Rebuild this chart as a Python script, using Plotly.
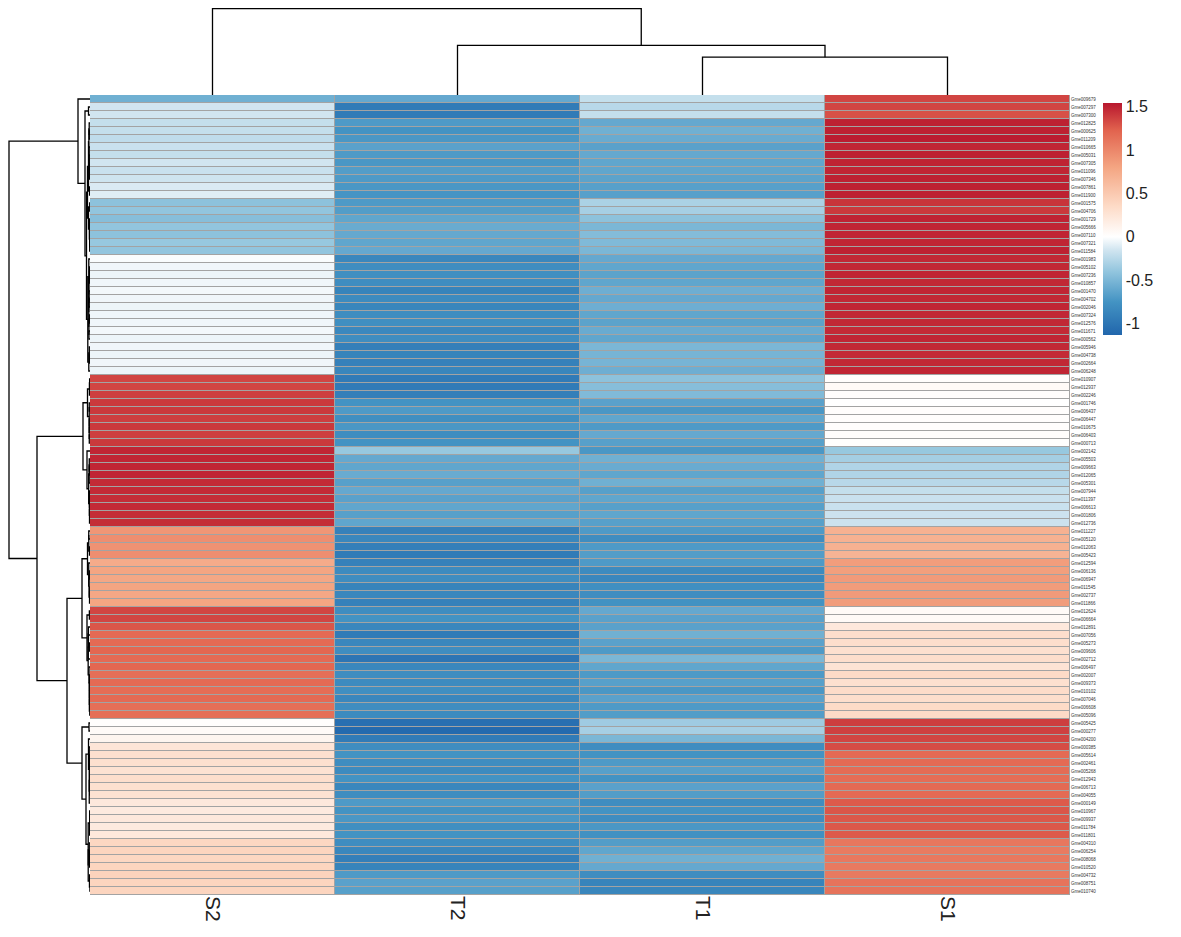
import numpy as np
import plotly.graph_objects as go

# columns in the order they appear after clustering
samples = ["S2", "T2", "T1", "S1"]

genes = [
    "Gme009679", "Gme007297", "Gme007300", "Gme012825", "Gme000625", "Gme011209", "Gme010665",
    "Gme005031", "Gme007305", "Gme011096", "Gme007346", "Gme007861", "Gme011900", "Gme001575",
    "Gme004706", "Gme001729", "Gme005666", "Gme007110", "Gme007321", "Gme011584", "Gme001983",
    "Gme005102", "Gme007236", "Gme010857", "Gme001470", "Gme004702", "Gme002046", "Gme007324",
    "Gme012576", "Gme011671", "Gme000562", "Gme005946", "Gme004738", "Gme002664", "Gme006248",
    "Gme010907", "Gme012937", "Gme002246", "Gme001746", "Gme006437", "Gme006447", "Gme010675",
    "Gme006403", "Gme000713", "Gme002142", "Gme005503", "Gme009663", "Gme012065", "Gme005301",
    "Gme007944", "Gme011397", "Gme006613", "Gme001806", "Gme012736", "Gme011227", "Gme005120",
    "Gme012063", "Gme005423", "Gme012594", "Gme006136", "Gme006947", "Gme011545", "Gme002737",
    "Gme011866", "Gme012624", "Gme006664", "Gme012891", "Gme007056", "Gme005273", "Gme009606",
    "Gme002712", "Gme006497", "Gme002007", "Gme009373", "Gme010102", "Gme007046", "Gme006608",
    "Gme005096", "Gme005425", "Gme000277", "Gme004200", "Gme000385", "Gme005614", "Gme002461",
    "Gme005268", "Gme012943", "Gme006713", "Gme004055", "Gme000149", "Gme010967", "Gme009937",
    "Gme011784", "Gme011801", "Gme004310", "Gme006254", "Gme008068", "Gme010520", "Gme004732",
    "Gme008751", "Gme010740",
]

# row z-scores, one list per sample column
s2 = [
    -0.55, -0.15, -0.15, -0.20, -0.20, -0.22, -0.18, -0.20, -0.15, -0.18,
    -0.16, -0.12, -0.10, -0.42, -0.40, -0.45, -0.40, -0.42, -0.38, -0.40,
    -0.02, -0.05, -0.06, -0.05, -0.04, -0.05, -0.06, -0.05, -0.05, -0.04,
    -0.06, -0.05, -0.06, -0.05, -0.06,
    1.35, 1.35, 1.38, 1.40, 1.40, 1.38, 1.40, 1.38, 1.40, 1.48,
    1.48, 1.48, 1.48, 1.46, 1.46, 1.45, 1.46, 1.45, 1.45,
    0.90, 0.95, 0.92, 0.95, 0.75, 0.80, 0.78, 0.80, 0.78, 0.80,
    1.35, 1.35, 1.28, 1.18, 1.18, 1.20, 1.18, 1.20, 1.15, 1.18,
    1.16, 1.18, 1.15, 1.15,
    0.02, 0.05, 0.10, 0.25, 0.30, 0.30, 0.28, 0.32, 0.30, 0.28,
    0.22, 0.20, 0.22, 0.20, 0.22, 0.38, 0.40, 0.38, 0.40, 0.42,
    0.40, 0.40,
]
t2 = [
    -0.60, -0.95, -0.95, -0.70, -0.75, -0.72, -0.65, -0.70, -0.72, -0.68,
    -0.70, -0.72, -0.74, -0.70, -0.68, -0.62, -0.58, -0.60, -0.62, -0.60,
    -0.85, -0.80, -0.78, -0.80, -0.88, -0.82, -0.86, -0.80, -0.78, -0.84,
    -0.80, -0.92, -0.88, -0.90, -0.86,
    -0.95, -0.95, -0.92, -0.75, -0.70, -0.78, -0.72, -0.80, -0.75, -0.38,
    -0.60, -0.62, -0.58, -0.66, -0.60, -0.65, -0.62, -0.66, -0.62,
    -0.90, -0.85, -0.92, -0.95, -0.90, -0.82, -0.80, -0.88, -0.85, -0.90,
    -0.80, -0.75, -0.85, -0.95, -0.85, -0.80, -1.00, -0.85, -0.80, -0.82,
    -0.78, -0.85, -0.80, -0.82,
    -1.05, -1.10, -0.95, -0.80, -0.75, -0.80, -0.82, -0.75, -0.85, -0.80,
    -0.70, -0.75, -0.72, -0.78, -0.75, -0.80, -0.85, -0.92, -0.88, -0.70,
    -0.65, -0.66,
]
t1 = [
    -0.20, -0.25, -0.20, -0.60, -0.55, -0.58, -0.65, -0.60, -0.62, -0.62,
    -0.64, -0.66, -0.66, -0.30, -0.32, -0.42, -0.50, -0.46, -0.48, -0.50,
    -0.60, -0.62, -0.64, -0.62, -0.56, -0.60, -0.56, -0.62, -0.64, -0.58,
    -0.62, -0.50, -0.52, -0.52, -0.56,
    -0.42, -0.45, -0.48, -0.65, -0.72, -0.62, -0.70, -0.60, -0.66, -0.72,
    -0.55, -0.58, -0.62, -0.55, -0.66, -0.62, -0.66, -0.62, -0.66,
    -0.70, -0.80, -0.70, -0.68, -0.70, -0.82, -0.85, -0.78, -0.80, -0.76,
    -0.60, -0.65, -0.65, -0.55, -0.65, -0.70, -0.50, -0.62, -0.70, -0.66,
    -0.72, -0.65, -0.70, -0.68,
    -0.35, -0.32, -0.50, -0.80, -0.75, -0.70, -0.66, -0.75, -0.65, -0.68,
    -0.80, -0.75, -0.80, -0.72, -0.77, -0.68, -0.62, -0.55, -0.60, -0.80,
    -0.88, -0.86,
]
s1 = [
    1.35, 1.35, 1.30, 1.50, 1.50, 1.52, 1.48, 1.50, 1.49, 1.48,
    1.50, 1.50, 1.50, 1.42, 1.40, 1.49, 1.48, 1.48, 1.48, 1.50,
    1.47, 1.47, 1.48, 1.47, 1.48, 1.47, 1.48, 1.47, 1.47, 1.46,
    1.48, 1.47, 1.46, 1.47, 1.48,
    0.02, 0.05, 0.02, 0.00, 0.02, 0.02, 0.02, 0.02, 0.01, -0.38,
    -0.33, -0.28, -0.28, -0.25, -0.20, -0.18, -0.18, -0.17, -0.17,
    0.70, 0.70, 0.70, 0.68, 0.85, 0.84, 0.87, 0.86, 0.87, 0.86,
    0.05, 0.05, 0.22, 0.32, 0.32, 0.30, 0.32, 0.27, 0.35, 0.30,
    0.34, 0.32, 0.35, 0.35,
    1.38, 1.37, 1.35, 1.32, 1.18, 1.18, 1.17, 1.16, 1.18, 1.18,
    1.26, 1.28, 1.27, 1.27, 1.26, 1.10, 1.07, 1.09, 1.08, 1.08,
    1.12, 1.12,
]

# column dendrogram: scipy-style merges (left, right, height)
col_merges = [(2, 3, 38), (1, 4, 50), (0, 5, 87)]

# row dendrogram: (height, a, b); two ints = a contiguous block of rows
row_tree = (81,
            (12, 0, (5, (1.5, 1, 2),
                     (3.5, (2.5, (1.5, 3, 12), (1.5, 13, 19)),
                      (2.2, (1.2, 20, 30), (1.2, 31, 34))))),
            (53, (7, (2.5, 35, 43), (3, 44, 53)),
             (23, (8, (2.5, 54, 63), (3, 64, 77)),
              (8, (1, 78, 79), (4, (1.5, 80, 88), (1.8, 89, 99))))))

Z = np.array([s2, t2, t1, s1]).T

seg_x, seg_y = [], []


def add_u(y1, h1, y2, h2, h):
    seg_x.extend([h1, h, h, h2, None])
    seg_y.extend([y1, y1, y2, y2, None])


def block_tree(a, b, top):
    # order-preserving average linkage inside a block of rows
    clusters = [dict(members=[i], y=float(i), r=0.0) for i in range(a, b + 1)]
    merges = []
    while len(clusters) > 1:
        best, best_d = 0, None
        for k in range(len(clusters) - 1):
            m1, m2 = clusters[k]["members"], clusters[k + 1]["members"]
            d = np.mean([np.linalg.norm(Z[p] - Z[q]) for p in m1 for q in m2])
            if best_d is None or d < best_d:
                best, best_d = k, d
        c1, c2 = clusters[best], clusters[best + 1]
        r = max(best_d, c1["r"], c2["r"])
        merges.append((c1["y"], c1["r"], c2["y"], c2["r"], r))
        clusters[best:best + 2] = [dict(members=c1["members"] + c2["members"],
                                        y=(c1["y"] + c2["y"]) / 2, r=r)]
    scale = top / merges[-1][4] if merges[-1][4] > 0 else 0
    for y1, r1, y2, r2, r in merges:
        add_u(y1, r1 * scale, y2, r2 * scale, r * scale)
    return clusters[0]["y"], top


def draw(node):
    if isinstance(node, int):
        return float(node), 0.0
    h, a, b = node
    if isinstance(a, int) and isinstance(b, int):
        return block_tree(a, b, h)
    ya, ha = draw(a)
    yb, hb = draw(b)
    add_u(ya, ha, yb, hb, h)
    return (ya + yb) / 2, h


draw(row_tree)

# column dendrogram segments
pos = {i: (float(i), 0.0) for i in range(len(samples))}
cx, cy = [], []
for k, (l, r, h) in enumerate(col_merges):
    (xl, hl), (xr, hr) = pos[l], pos[r]
    cx.extend([xl, xl, xr, xr, None])
    cy.extend([hl, h, h, hr, None])
    pos[len(samples) + k] = ((xl + xr) / 2, h)

# the page body adds an 8px offset, so the figure is laid out 8px smaller
W, H = 1173, 929
hx0, hx1 = 82 / W, 1062 / W
hy0, hy1 = (H - 887) / H, (H - 87) / H
zmin, zmax = -1.13, 1.54


def stop(v):
    return (v - zmin) / (zmax - zmin)


colorscale = [
    [0.0, "#2166ac"], [stop(-0.75), "#4393c3"], [stop(-0.4), "#92c5de"],
    [stop(-0.15), "#d1e5f0"], [stop(0.0), "#ffffff"], [stop(0.35), "#fddbc7"],
    [stop(0.8), "#f4a582"], [stop(1.22), "#e2644f"], [1.0, "#b8172e"],
]

fig = go.Figure()
fig.add_trace(go.Heatmap(
    z=Z, x=list(range(len(samples))), y=list(range(len(genes))),
    colorscale=colorscale, zmin=zmin, zmax=zmax, xgap=1, ygap=1,
    hovertemplate="%{customdata}<extra></extra>",
    customdata=[[g] * 4 for g in genes],
    colorbar=dict(x=1085 / W, xanchor="left", y=(H - 85) / H, yanchor="top",
                  len=252 / H, lenmode="fraction", thickness=19, outlinewidth=0,
                  ticks="", tickvals=[-1, -0.5, 0, 0.5, 1, 1.5],
                  ticktext=["-1", "-0.5", "0", "0.5", "1", "1.5"],
                  tickfont=dict(size=16, color="#222222")),
))
fig.add_trace(go.Scatter(x=cx, y=cy, mode="lines", xaxis="x2", yaxis="y2",
                         line=dict(color="black", width=1.3), hoverinfo="skip",
                         showlegend=False))
fig.add_trace(go.Scatter(x=seg_x, y=seg_y, mode="lines", xaxis="x3", yaxis="y3",
                         line=dict(color="black", width=1.3), hoverinfo="skip",
                         showlegend=False))

# grey cell borders showing through the gaps
fig.add_shape(type="rect", xref="x", yref="y", x0=-0.5, x1=3.5, y0=-0.5, y1=99.5,
              fillcolor="#a3a3a3", line=dict(color="#a3a3a3", width=1), layer="below")

fig.update_layout(
    width=W, height=H,
    margin=dict(l=0, r=0, t=0, b=0),
    paper_bgcolor="white", plot_bgcolor="white",
    font=dict(family="Arial, Liberation Sans, sans-serif", color="#222222"),
    showlegend=False,
    xaxis=dict(domain=[hx0, hx1], range=[-0.5, 3.5], tickvals=list(range(4)),
               ticktext=samples, tickangle=90, tickfont=dict(size=21),
               showgrid=False, zeroline=False, ticks="", automargin=False),
    yaxis=dict(domain=[hy0, hy1], range=[99.5, -0.5], side="right",
               tickvals=list(range(len(genes))), ticktext=genes,
               tickfont=dict(size=4.5, color="#333333"),
               showgrid=False, zeroline=False, ticks="", automargin=False),
    xaxis2=dict(domain=[hx0, hx1], range=[-0.5, 3.5], visible=False, anchor="y2"),
    yaxis2=dict(domain=[hy1, 1.0], range=[0, 87.5], visible=False, anchor="x2"),
    xaxis3=dict(domain=[0, hx0], range=[82, 0], visible=False, anchor="y3"),
    yaxis3=dict(domain=[hy0, hy1], range=[99.5, -0.5], visible=False, anchor="x3"),
)

fig.write_html("out.html")
